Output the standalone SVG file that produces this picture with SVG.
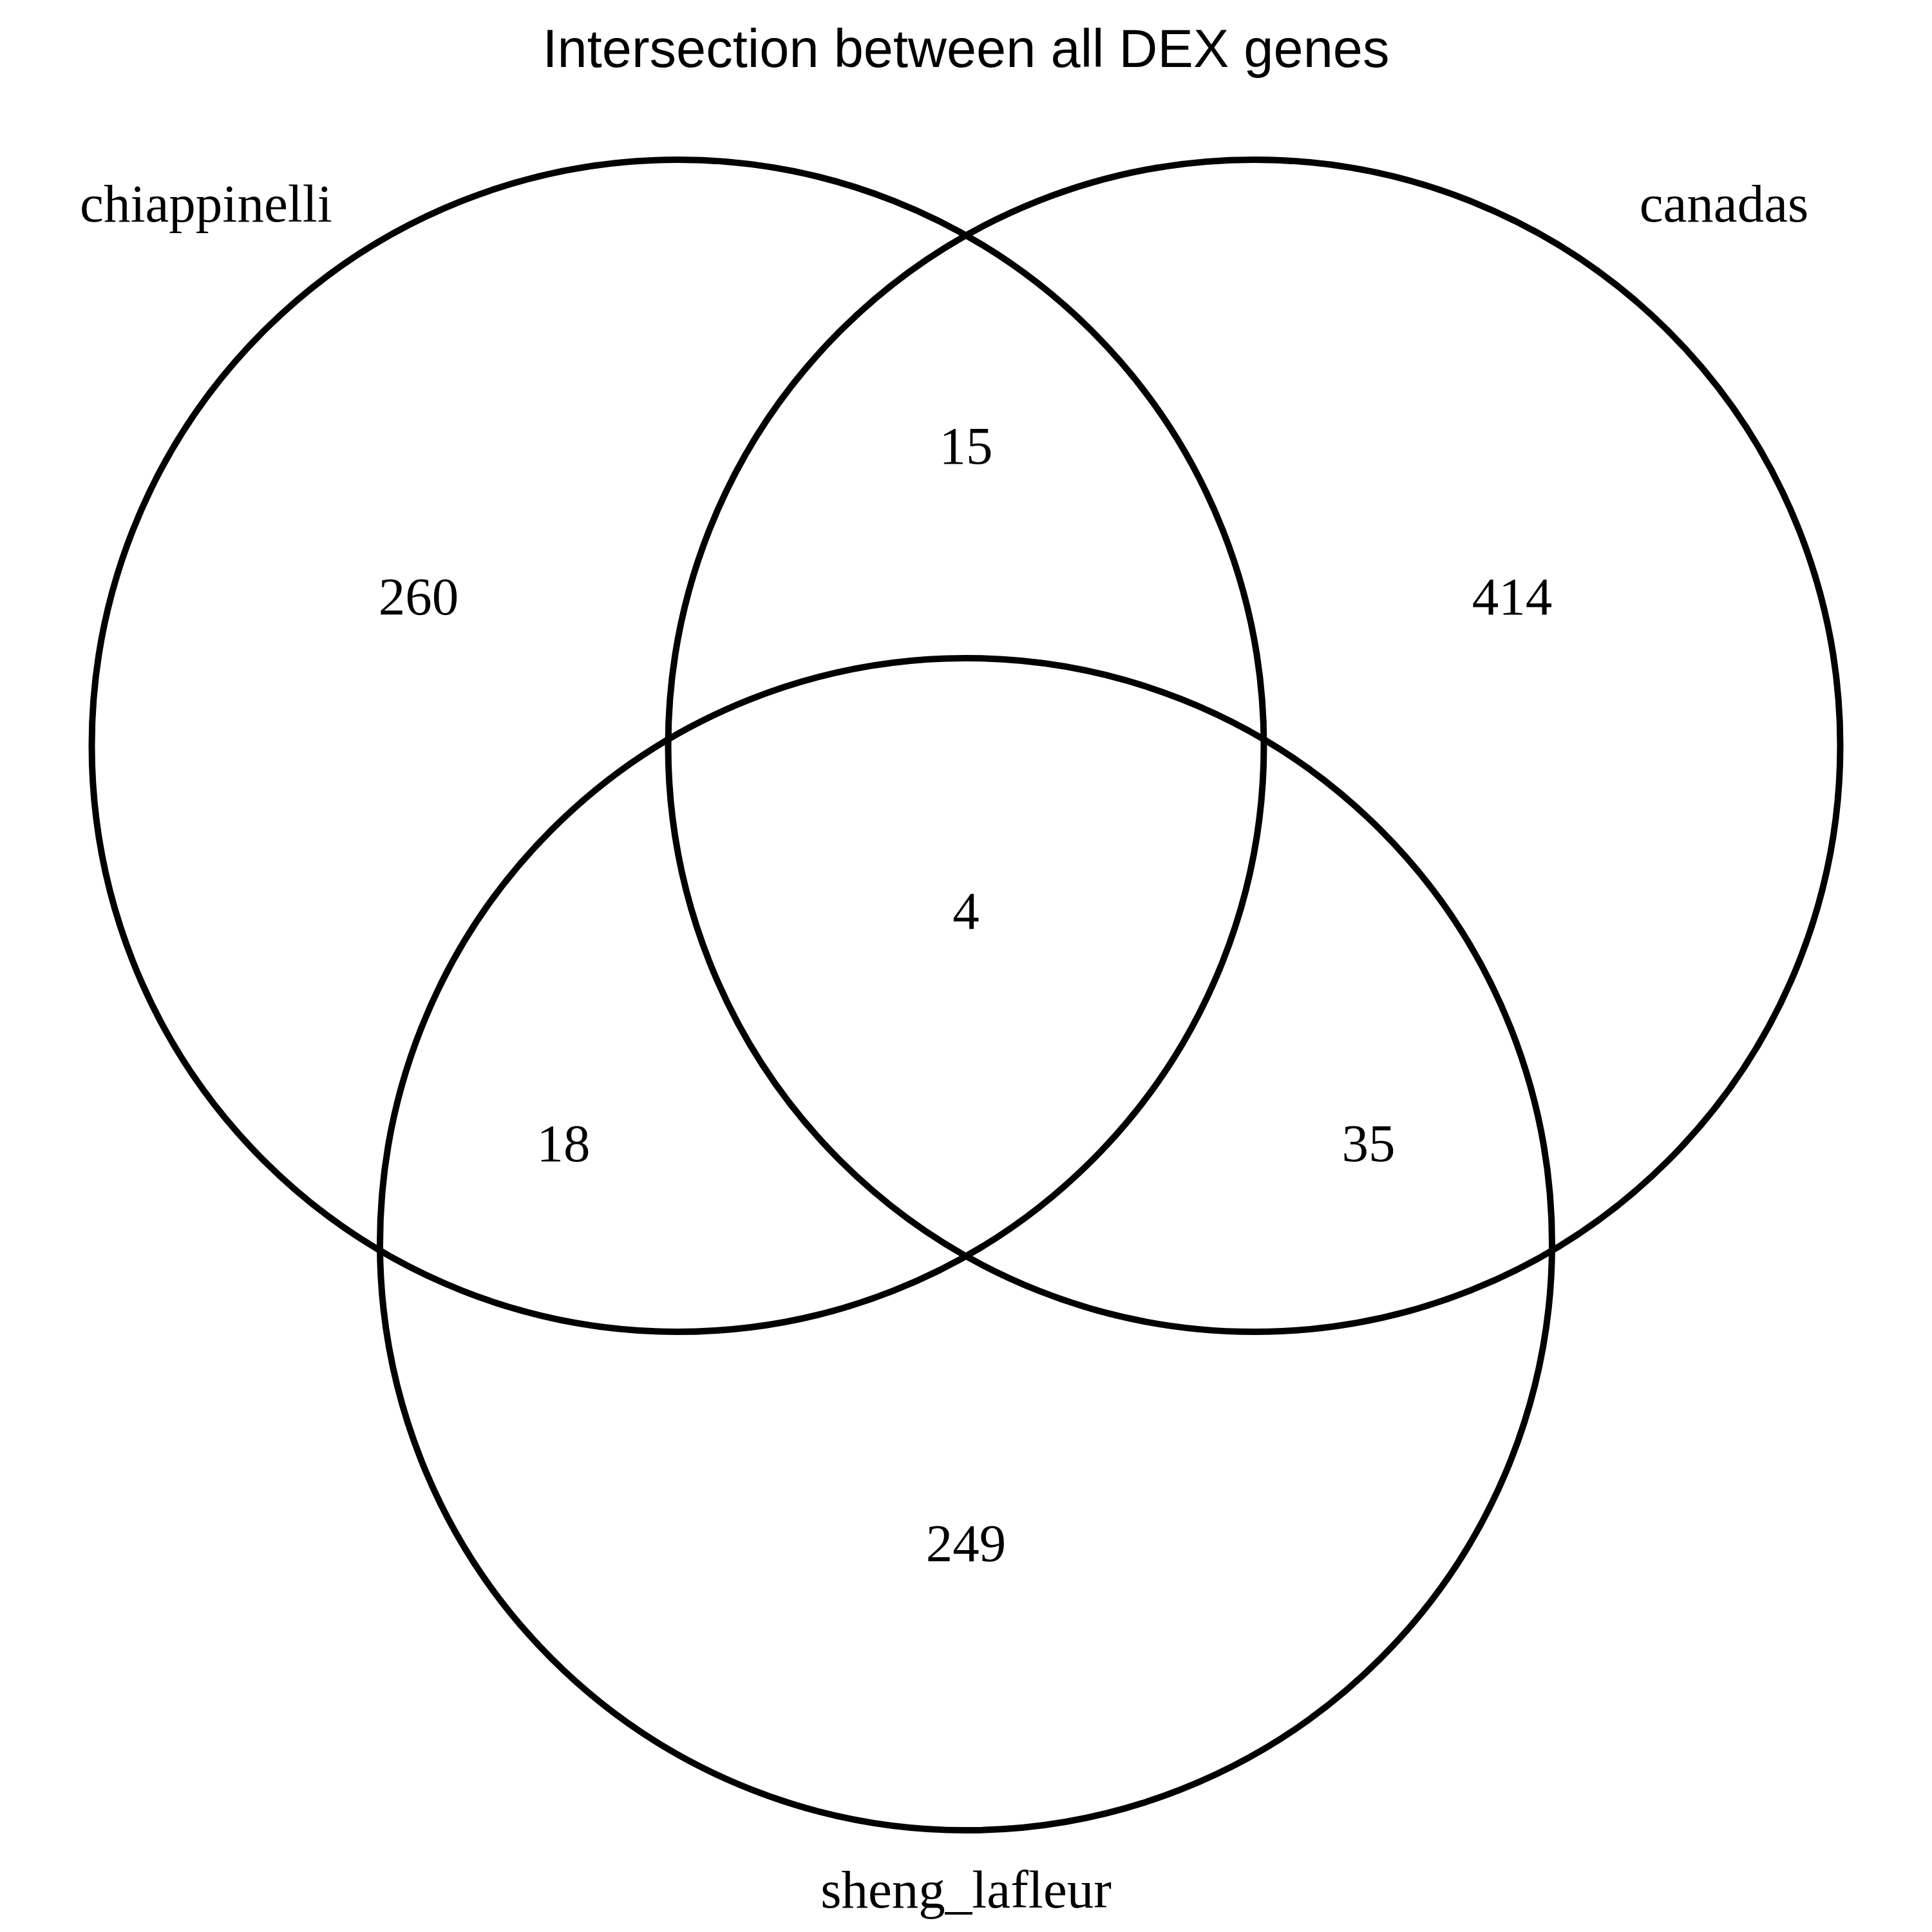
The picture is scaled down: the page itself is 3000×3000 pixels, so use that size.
<svg xmlns="http://www.w3.org/2000/svg" width="3000" height="3000" viewBox="0 0 3000 3000">
<style>
.set{fill:none;stroke:#000;stroke-width:10}
.lab{font-family:"Liberation Serif","Times New Roman",serif;font-size:83px;fill:#000}
.num{font-family:"Liberation Serif","Times New Roman",serif;font-size:83px;fill:#000;text-anchor:middle}
.title{font-family:"Liberation Sans",Arial,sans-serif;font-size:83px;fill:#000;text-anchor:middle}
</style>
<rect width="3000" height="3000" fill="#fff"/>
<text class="title" x="1500" y="104">Intersection between all DEX genes</text>
<g id="chiappinelli">
<circle class="set" cx="1052.5" cy="1158" r="910"/>
<text class="lab" x="320" y="344" text-anchor="middle">chiappinelli</text>
</g>
<g id="canadas">
<circle class="set" cx="1947.5" cy="1158" r="910"/>
<text class="lab" x="2677" y="344" text-anchor="middle">canadas</text>
</g>
<g id="sheng_lafleur">
<circle class="set" cx="1500" cy="1932" r="910"/>
<text class="lab" x="1500" y="2962" text-anchor="middle">sheng_lafleur</text>
</g>
<g id="counts">
<text class="num" x="650" y="954">260</text>
<text class="num" x="1500" y="720">15</text>
<text class="num" x="2348" y="954">414</text>
<text class="num" x="1500" y="1442">4</text>
<text class="num" x="875" y="1803">18</text>
<text class="num" x="2125" y="1803">35</text>
<text class="num" x="1500" y="2424">249</text>
</g>
<g id="connectors"></g>
</svg>
